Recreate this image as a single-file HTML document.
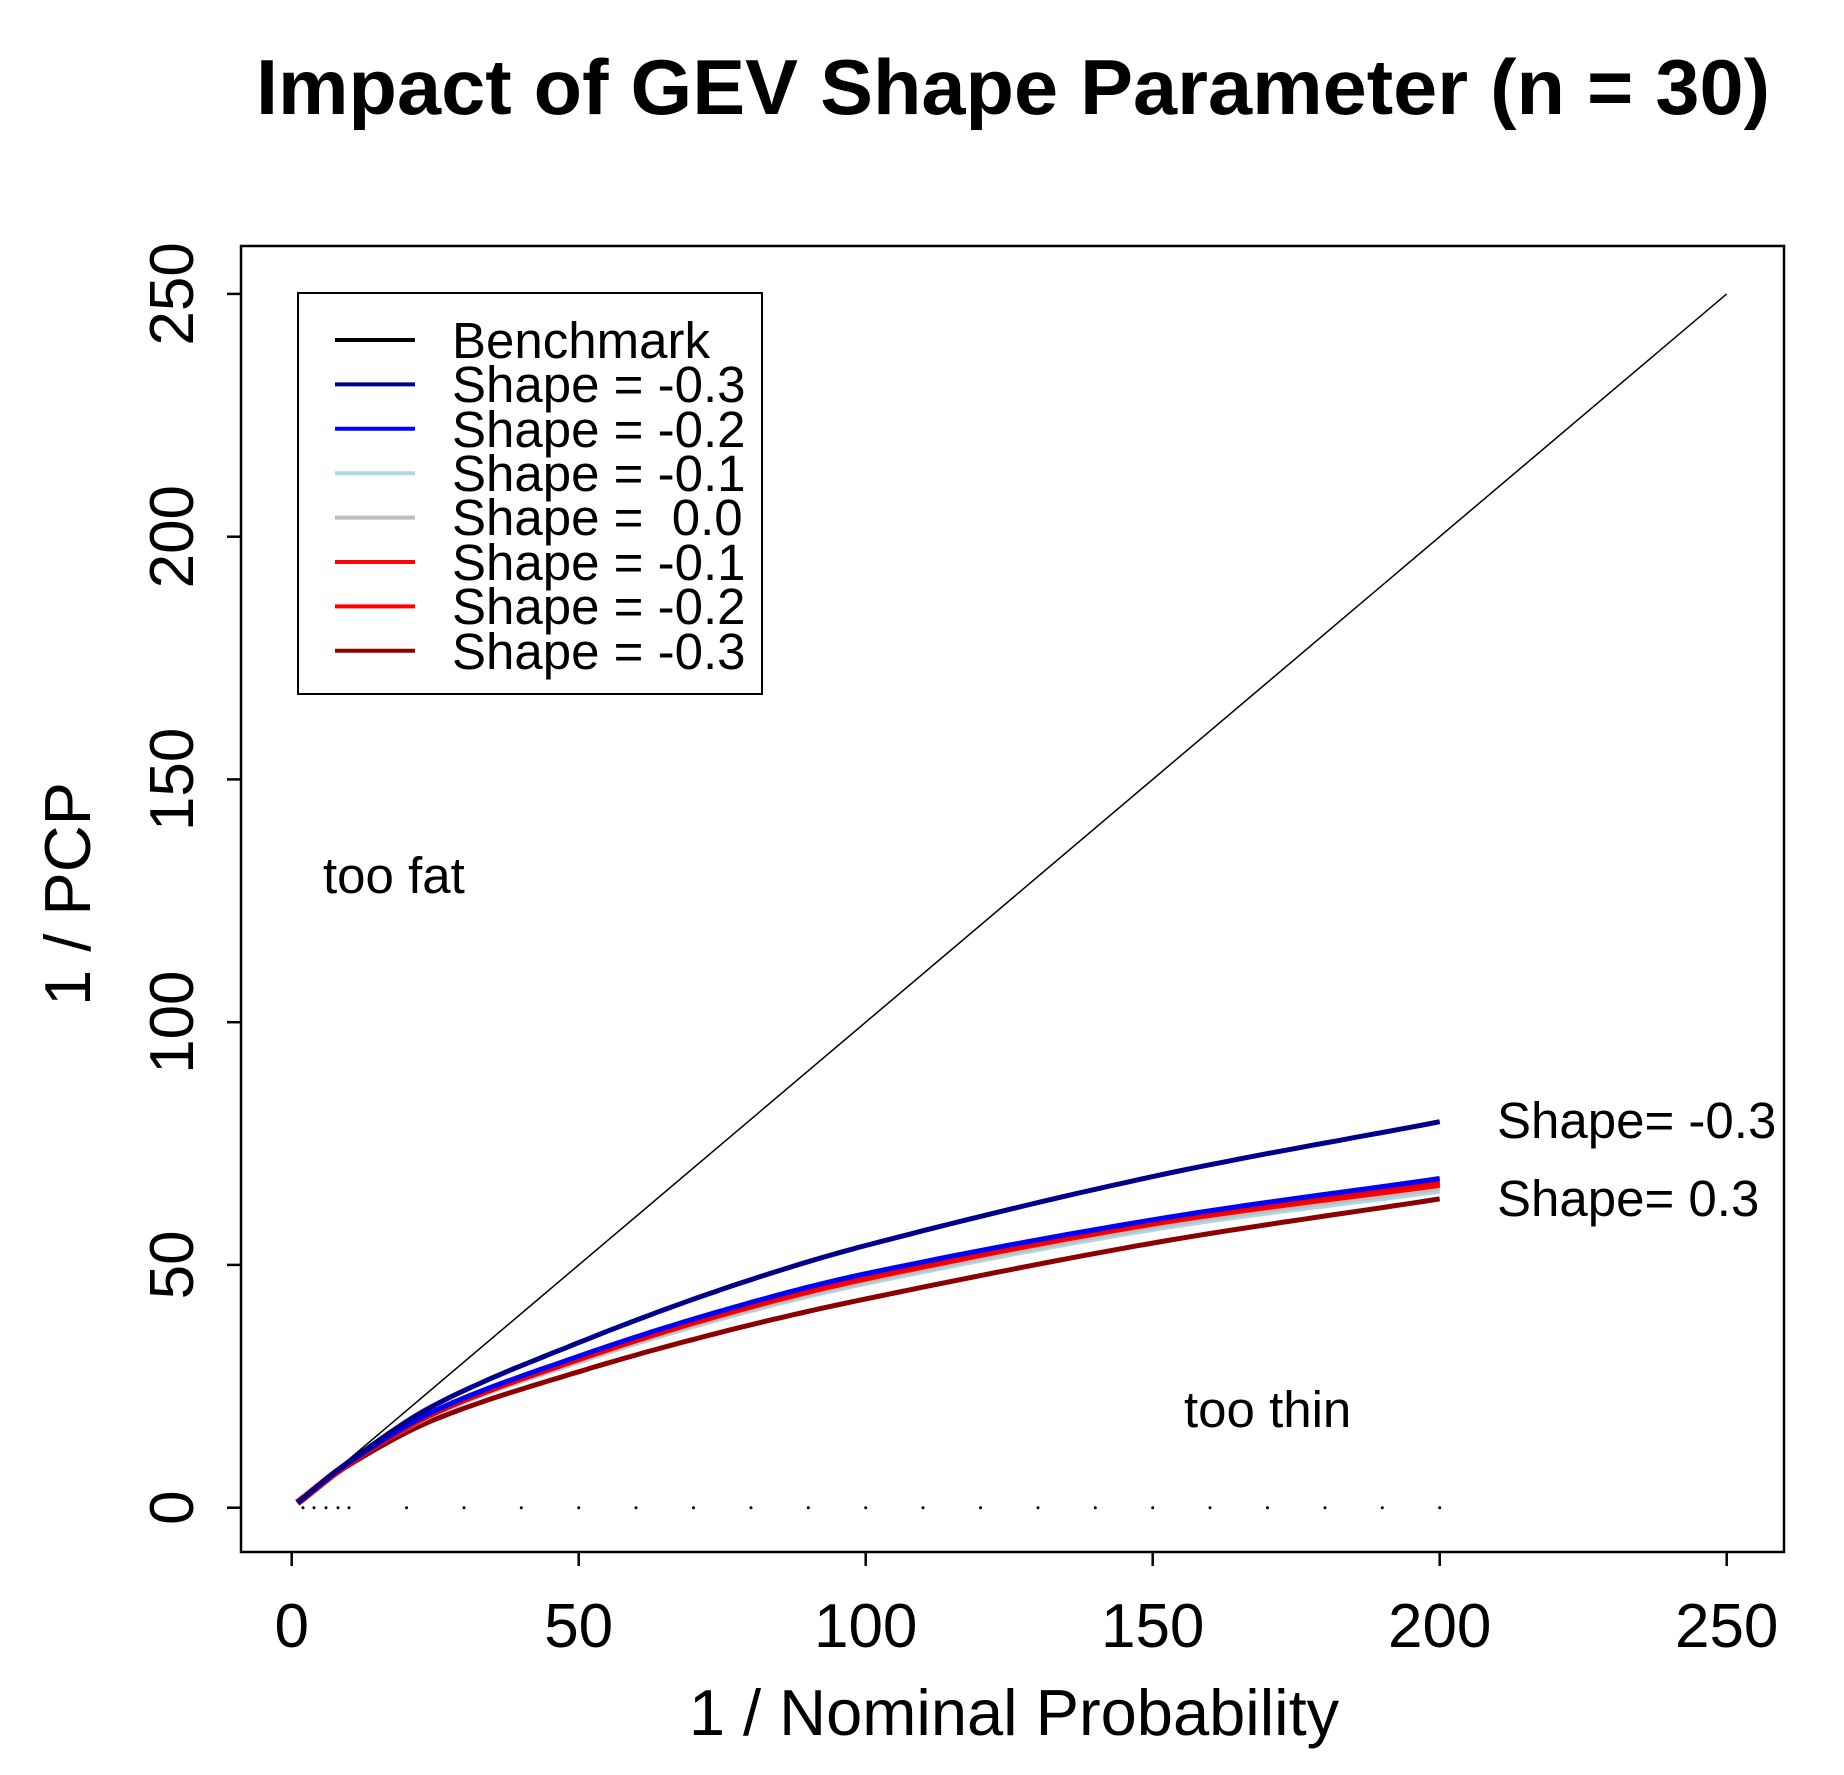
<!DOCTYPE html>
<html><head><meta charset="utf-8"><style>
body{margin:0;background:#fff}
svg{display:block}
text{font-family:"Liberation Sans",Arial,sans-serif;white-space:pre}
</style></head><body>
<svg id="s" width="1844" height="1775" viewBox="0 0 1844 1775" xmlns="http://www.w3.org/2000/svg">
<rect width="1844" height="1775" fill="#fff"/>
<text x="256" y="114" font-size="78" font-weight="bold" textLength="1514" lengthAdjust="spacingAndGlyphs">Impact of GEV Shape Parameter (n = 30)</text>
<rect x="241" y="246" width="1543" height="1306" fill="none" stroke="#000" stroke-width="2.5"/>
<g stroke="#000" stroke-width="2.5">
<line x1="291.7" y1="1552" x2="291.7" y2="1566"/>
<line x1="578.7" y1="1552" x2="578.7" y2="1566"/>
<line x1="865.7" y1="1552" x2="865.7" y2="1566"/>
<line x1="1152.7" y1="1552" x2="1152.7" y2="1566"/>
<line x1="1439.7" y1="1552" x2="1439.7" y2="1566"/>
<line x1="1726.7" y1="1552" x2="1726.7" y2="1566"/>
<line x1="227" y1="1507.7" x2="241" y2="1507.7"/>
<line x1="227" y1="1264.9" x2="241" y2="1264.9"/>
<line x1="227" y1="1022.2" x2="241" y2="1022.2"/>
<line x1="227" y1="779.4" x2="241" y2="779.4"/>
<line x1="227" y1="536.7" x2="241" y2="536.7"/>
<line x1="227" y1="293.9" x2="241" y2="293.9"/>
</g>
<g font-size="62" text-anchor="middle">
<text x="291.7" y="1647">0</text>
<text x="578.7" y="1647">50</text>
<text x="865.7" y="1647">100</text>
<text x="1152.7" y="1647">150</text>
<text x="1439.7" y="1647">200</text>
<text x="1726.7" y="1647">250</text>
</g>
<g font-size="62" text-anchor="middle">
<text transform="translate(193,1507.7) rotate(-90)">0</text>
<text transform="translate(193,1264.9) rotate(-90)">50</text>
<text transform="translate(193,1022.2) rotate(-90)">100</text>
<text transform="translate(193,779.4) rotate(-90)">150</text>
<text transform="translate(193,536.7) rotate(-90)">200</text>
<text transform="translate(193,293.9) rotate(-90)">250</text>
</g>
<text x="1014" y="1735" font-size="65" text-anchor="middle">1 / Nominal Probability</text>
<text transform="translate(90,894) rotate(-90)" font-size="65" text-anchor="middle">1 / PCP</text>
<line x1="297.4" y1="1502.9" x2="1726.7" y2="293.9" stroke="#000" stroke-width="1.5"/>
<g fill="#000">
<circle cx="303" cy="1507.7" r="1.5"/><circle cx="314" cy="1507.7" r="1.5"/><circle cx="326" cy="1507.7" r="1.5"/><circle cx="338" cy="1507.7" r="1.5"/><circle cx="349" cy="1507.7" r="1.5"/>
<circle cx="406.5" cy="1507.7" r="1.5"/><circle cx="464" cy="1507.7" r="1.5"/><circle cx="521.3" cy="1507.7" r="1.5"/><circle cx="578.7" cy="1507.7" r="1.5"/><circle cx="636" cy="1507.7" r="1.5"/><circle cx="693.5" cy="1507.7" r="1.5"/><circle cx="751" cy="1507.7" r="1.5"/><circle cx="808.3" cy="1507.7" r="1.5"/><circle cx="865.7" cy="1507.7" r="1.5"/><circle cx="923" cy="1507.7" r="1.5"/><circle cx="980.5" cy="1507.7" r="1.5"/><circle cx="1038" cy="1507.7" r="1.5"/><circle cx="1095.3" cy="1507.7" r="1.5"/><circle cx="1152.7" cy="1507.7" r="1.5"/><circle cx="1210" cy="1507.7" r="1.5"/><circle cx="1267.5" cy="1507.7" r="1.5"/><circle cx="1325" cy="1507.7" r="1.5"/><circle cx="1382.3" cy="1507.7" r="1.5"/><circle cx="1439.7" cy="1507.7" r="1.5"/>
</g>
<g id="curves" fill="none" stroke-width="5" stroke-linejoin="round" stroke-linecap="butt"></g>
<rect x="298" y="293" width="464" height="401" fill="#fff" stroke="#000" stroke-width="2"/>
<g stroke-width="4">
<line x1="335" y1="340" x2="415" y2="340" stroke="#000"/>
<line x1="335" y1="384.4" x2="415" y2="384.4" stroke="#00008b"/>
<line x1="335" y1="428.8" x2="415" y2="428.8" stroke="#0000ff"/>
<line x1="335" y1="473.2" x2="415" y2="473.2" stroke="#add8e6"/>
<line x1="335" y1="517.6" x2="415" y2="517.6" stroke="#bebebe"/>
<line x1="335" y1="562" x2="415" y2="562" stroke="#ff0000"/>
<line x1="335" y1="606.4" x2="415" y2="606.4" stroke="#ff0000"/>
<line x1="335" y1="650.8" x2="415" y2="650.8" stroke="#8b0000"/>
</g>
<g font-size="51">
<text x="452" y="358">Benchmark</text>
<text x="452" y="402">Shape = -0.3</text>
<text x="452" y="447">Shape = -0.2</text>
<text x="452" y="491">Shape = -0.1</text>
<text x="452" y="535">Shape =  0.0</text>
<text x="452" y="580">Shape = -0.1</text>
<text x="452" y="624">Shape = -0.2</text>
<text x="452" y="669">Shape = -0.3</text>
</g>
<g font-size="51">
<text x="323" y="893">too fat</text>
<text x="1184" y="1427">too thin</text>
<text x="1497" y="1138">Shape= -0.3</text>
<text x="1497" y="1216">Shape= 0.3</text>
</g>
</svg>
<script>
(function(){
var X=function(v){return 291.7+5.74*v}, Y=function(v){return 1507.7-4.855*v};
var xs=[1,10,25,50,75,100,150,200];
var series=[
 ["#8b0000",[1,8.8,18.2,28,36.2,43,54.5,63.6]],
 ["#add8e6",[1,9.1,19.3,30,39,46.2,57.3,65.2]],
 ["#bebebe",[1,9.1,19.4,30.2,39.3,46.6,57.8,65.8]],
 ["#ff0000",[1,9.2,19.7,30.7,39.9,47.3,58.6,66.6]],
 ["#ee0000",[1,9.2,19.8,30.9,40.2,47.7,59,67.2]],
 ["#0000ff",[1,9.3,20,31.2,40.6,48.2,59.3,67.8]],
 ["#00008b",[1,9.5,21.2,34,45,54,68.2,79.5]]
];
function spline(vals){
  var out=[];
  for(var i=0;i<xs.length-1;i++){
    var x0=xs[Math.max(i-1,0)],y0=vals[Math.max(i-1,0)],x1=xs[i],y1=vals[i],x2=xs[i+1],y2=vals[i+1],x3=xs[Math.min(i+2,xs.length-1)],y3=vals[Math.min(i+2,xs.length-1)];
    var m1=(y2-y0)/(x2-x0||1), m2=(y3-y1)/(x3-x1||1);
    if(i==0)m1=(y2-y1)/(x2-x1);
    if(i==xs.length-2)m2=(y2-y1)/(x2-x1);
    var h=x2-x1;
    for(var k=0;k<20;k++){
      var t=k/20,t2=t*t,t3=t2*t;
      var y=(2*t3-3*t2+1)*y1+(t3-2*t2+t)*h*m1+(-2*t3+3*t2)*y2+(t3-t2)*h*m2;
      out.push(X(x1+t*h).toFixed(1)+","+Y(y).toFixed(1));
    }
  }
  out.push(X(200).toFixed(1)+","+Y(vals[vals.length-1]).toFixed(1));
  return out.join(" ");
}
var g=document.getElementById("curves");
series.forEach(function(s){
  var p=document.createElementNS("http://www.w3.org/2000/svg","polyline");
  p.setAttribute("points",spline(s[1]));p.setAttribute("stroke",s[0]);
  if(s[0]=="#ff0000"||s[0]=="#ee0000")p.setAttribute("stroke-width","7");
  g.appendChild(p);
});
})();
</script>
</body></html>
